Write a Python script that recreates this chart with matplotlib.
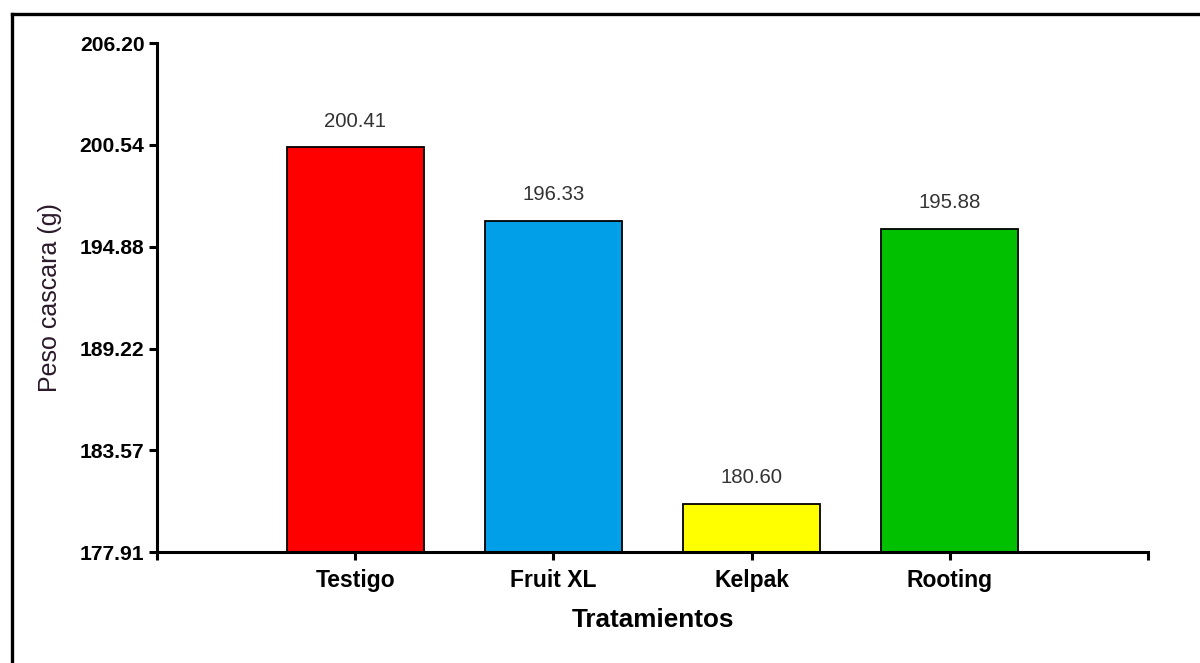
import matplotlib
matplotlib.use("Agg")
import matplotlib.pyplot as plt
from matplotlib.lines import Line2D

plt.rcParams['font.family'] = ['Liberation Sans', 'DejaVu Sans']

# datos
tratamientos = ["Testigo", "Fruit XL", "Kelpak", "Rooting"]
peso = [200.41, 196.33, 180.60, 195.88]
colores = ["#FF0000", "#009FE8", "#FFFF00", "#00C000"]
yticks = [177.91, 183.57, 189.22, 194.88, 200.54, 206.20]

W, H = 1200, 663
fig = plt.figure(figsize=(12, 6.63), dpi=100)
ax = fig.add_axes((157 / W, 1 - 552 / H, (1148 - 157) / W, (552 - 43) / H))

pos = list(range(1, len(tratamientos) + 1))
ax.bar(pos, peso, width=0.69, color=colores, edgecolor="black", linewidth=1.3)
ax.set_ylim(yticks[0], yticks[-1])
ax.set_xlim(0, len(tratamientos) + 1)

# etiquetas de valores
for x, v in zip(pos, peso):
    ax.annotate(f"{v:.2f}", (x, v), xytext=(0, 12), textcoords="offset points",
                ha="center", va="bottom", fontsize=14.7, color="#333333")

ax.set_yticks(yticks)
ax.set_yticklabels([f"{t:.2f}" for t in yticks], fontsize=15.2, fontweight="bold")
ax.set_xticks([0] + pos + [len(tratamientos) + 1])
ax.set_xticklabels([""] + tratamientos + [""], fontsize=16.5, fontweight="bold")

for s in ["top", "right"]:
    ax.spines[s].set_visible(False)
for s in ["left", "bottom"]:
    ax.spines[s].set_linewidth(2.2)
ax.tick_params(axis="both", direction="out", length=6, width=2.2, colors="black")
ax.tick_params(axis="y", pad=3)
ax.tick_params(axis="x", pad=6)

ax.set_xlabel("Tratamientos", fontsize=18.8, fontweight="bold", labelpad=12)
ax.set_ylabel("Peso cascara (g)", fontsize=18, color="#2a1a2a", labelpad=13)

# marco exterior
fig.add_artist(Line2D([11.5 / W, 11.5 / W], [0, 1 - 13.5 / H], transform=fig.transFigure,
                      color="black", linewidth=2.4))
fig.add_artist(Line2D([11.5 / W, 1], [1 - 13.5 / H, 1 - 13.5 / H], transform=fig.transFigure,
                      color="black", linewidth=2.4))

fig.savefig("out.png", dpi=100)
